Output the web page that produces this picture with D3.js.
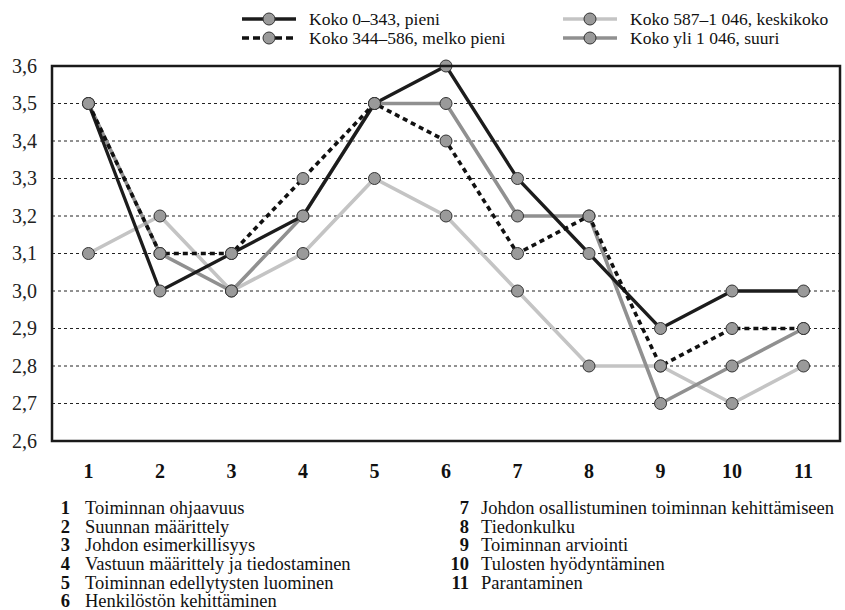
<!DOCTYPE html>
<html><head><meta charset="utf-8">
<script src="https://cdn.jsdelivr.net/npm/d3@7"></script>
<style>
body{margin:0;background:#fff}
svg{display:block}
svg text, text, .serif {font-family:"Liberation Serif","Times New Roman",Tinos,serif !important;}
</style>
</head><body><svg id="c" width="845" height="610"></svg>
<script>
const categories = ["1","2","3","4","5","6","7","8","9","10","11"];
const seriesNames = ["Koko 0–343, pieni","Koko 344–586, melko pieni","Koko 587–1 046, keskikoko","Koko yli 1 046, suuri"];
const pieni      = [3.5,3.0,3.1,3.2,3.5,3.6,3.3,3.1,2.9,3.0,3.0];
const melkoPieni = [3.5,3.1,3.1,3.3,3.5,3.4,3.1,3.2,2.8,2.9,2.9];
const keskikoko  = [3.1,3.2,3.0,3.1,3.3,3.2,3.0,2.8,2.8,2.7,2.8];
const suuri      = [3.5,3.1,3.0,3.2,3.5,3.5,3.2,3.2,2.7,2.8,2.9];
const yTicks = [2.6,2.7,2.8,2.9,3.0,3.1,3.2,3.3,3.4,3.5,3.6];
const itemLabels = ["Toiminnan ohjaavuus","Suunnan määrittely","Johdon esimerkillisyys","Vastuun määrittely ja tiedostaminen","Toiminnan edellytysten luominen","Henkilöstön kehittäminen","Johdon osallistuminen toiminnan kehittämiseen","Tiedonkulku","Toiminnan arviointi","Tulosten hyödyntäminen","Parantaminen"];

const styles = [
  {color:"#1c1c1c", width:3.3, dash:null, ldash:null},
  {color:"#111", width:3.6, dash:"5,4", ldash:"7,4"},
  {color:"#c4c4c4", width:3.6, dash:null, ldash:null},
  {color:"#909090", width:3.6, dash:null, ldash:null}
];
const data = [pieni, melkoPieni, keskikoko, suuri];
const FONT = "Liberation Serif";

const svg = d3.select("#c");
const L=52, R=840, T=66, B=441;
const x = d3.scalePoint().domain(categories).range([L,R]).padding(0.51);
const y = d3.scaleLinear().domain([2.6,3.6]).range([B,T]);

svg.append("g").selectAll("line").data(yTicks.filter(d=>d>2.6 && d<3.6)).join("line")
  .attr("x1",L).attr("x2",R).attr("y1",d=>y(d)).attr("y2",d=>y(d))
  .attr("stroke","#222").attr("stroke-width",1).attr("stroke-dasharray","3,3");

const fmt = d=>d.toFixed(1).replace(".",",");
svg.append("g").selectAll("text").data(yTicks).join("text")
  .attr("x",37).attr("y",d=>y(d)).attr("dy","0.33em").attr("text-anchor","end")
  .attr("font-size",20).attr("fill","#222").text(fmt);

svg.append("g").selectAll("text").data(categories).join("text")
  .attr("x",d=>x(d)).attr("y",471).attr("dy","0.33em").attr("text-anchor","middle")
  .attr("font-size",20).attr("font-weight","bold").attr("fill","#111").text(d=>d);

const line = d3.line().x((d,i)=>x(categories[i])).y(d=>y(d));
const order=[2,3,0,1];
order.forEach(k=>{
  svg.append("path").datum(data[k]).attr("d",line).attr("fill","none")
    .attr("stroke",styles[k].color).attr("stroke-width",styles[k].width)
    .attr("stroke-dasharray",styles[k].dash);
});
order.forEach(k=>{
  svg.append("g").selectAll("circle").data(data[k]).join("circle")
    .attr("cx",(d,i)=>x(categories[i])).attr("cy",d=>y(d)).attr("r",6)
    .attr("fill","#9a9a9a").attr("stroke","#333").attr("stroke-width",1);
});

svg.append("rect").attr("x",L).attr("y",T).attr("width",R-L).attr("height",B-T)
  .attr("fill","none").attr("stroke","#1a1a1a").attr("stroke-width",2.5);

const legPos=[[242,19],[242,38],[563,19],[563,38]];
seriesNames.forEach((n,k)=>{
  const [lx,ly]=legPos[k];
  const g=svg.append("g");
  g.append("line").attr("x1",lx).attr("x2",lx+54).attr("y1",ly).attr("y2",ly)
    .attr("stroke",styles[k].color).attr("stroke-width",styles[k].width).attr("stroke-dasharray",styles[k].ldash);
  g.append("circle").attr("cx",lx+27).attr("cy",ly).attr("r",6).attr("fill","#9a9a9a").attr("stroke","#333");
  g.append("text").attr("x",lx+67).attr("y",ly).attr("dy","0.33em").attr("font-size",17.5).attr("fill","#111").text(n);
});

itemLabels.forEach((t,i)=>{
  const col = i<6?0:1, row = i<6?i:i-6;
  const nx = col===0?70:469, tx = col===0?85:481, ty = 508 + row*18.6;
  svg.append("text").attr("x",nx).attr("y",ty).attr("dy","0.33em").attr("text-anchor","end")
    .attr("font-size",18.5).attr("font-weight","bold").attr("fill","#111").text(categories[i]);
  svg.append("text").attr("x",tx).attr("y",ty).attr("dy","0.33em")
    .attr("font-size",18.5).attr("fill","#111").text(t);
});

svg.selectAll("text").attr("class","serif").attr("font-family",FONT).style("font-family",`"${FONT}"`,"important");
</script></body></html>
